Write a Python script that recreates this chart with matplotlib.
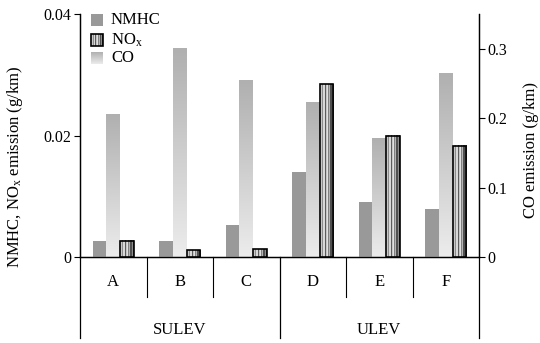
import numpy as np
import matplotlib
matplotlib.use("Agg")
import matplotlib.pyplot as plt
from matplotlib.patches import Rectangle
from matplotlib.colors import LinearSegmentedColormap, ListedColormap

categories = ["A", "B", "C", "D", "E", "F"]
groups = ["SULEV", "ULEV"]
nmhc = [0.0027, 0.0027, 0.0052, 0.0140, 0.0091, 0.0079]
nox = [0.0027, 0.0011, 0.0013, 0.0284, 0.0200, 0.0183]
co = [0.205, 0.300, 0.254, 0.222, 0.170, 0.265]

plt.rcParams['font.family'] = ['Liberation Serif', 'DejaVu Serif']
plt.rcParams['font.size'] = 11.5

fig = plt.figure(figsize=(5.4, 3.43), dpi=100)
ax = fig.add_axes([80/540, (343-257)/343, (479-80)/540, 243/343])
ax2 = ax.twinx()

x = np.arange(len(categories))
w = 0.205

grad_cmap = LinearSegmentedColormap.from_list("g", ["#ececec", "#b0b0b0"])
stripe_cols = ['#e2e2e2', '#c8c8c8', '#8c8c8c', '#d8d8d8', '#5c5c5c', '#c4c4c4',
               '#e0e0e0', '#808080', '#b4b4b4', '#505050', '#8c8c8c', '#3c3c3c']
stripe_cmap = ListedColormap(stripe_cols)
stripe_arr = np.arange(len(stripe_cols)).reshape(1, -1)
grad_arr = np.linspace(0, 1, 100).reshape(-1, 1)

ax.bar(x - w, nmhc, w, color="#999999", zorder=2)
nb = ax.bar(x + w, nox, w, facecolor="none", edgecolor="black", linewidth=1.2, zorder=4)
for b in nb:
    ax.imshow(stripe_arr, cmap=stripe_cmap, aspect='auto', interpolation='nearest',
              extent=[b.get_x(), b.get_x() + b.get_width(), 0, b.get_height()], zorder=3)

cb = ax2.bar(x, co, w, facecolor="none", edgecolor="none", zorder=2)
for b in cb:
    ax2.imshow(grad_arr, cmap=grad_cmap, aspect='auto', origin='lower', vmin=0, vmax=1,
               extent=[b.get_x(), b.get_x() + b.get_width(), 0, b.get_height()], zorder=2)

ax.set_xlim(-0.5, len(categories) - 0.5)
ax.set_ylim(0, 0.04)
ax2.set_ylim(0, 0.35)
ax2.set_xlim(-0.5, len(categories) - 0.5)

ax.set_yticks([0, 0.02, 0.04])
ax.set_yticklabels(["0", "0.02", "0.04"])
ax2.set_yticks([0, 0.1, 0.2, 0.3])
ax2.set_yticklabels(["0", "0.1", "0.2", "0.3"])
ax.set_xticks([])
for a in (ax, ax2):
    a.tick_params(axis='y', direction='out', length=4, width=0.8, pad=2)
    for s in a.spines.values():
        s.set_linewidth(0.9)
    a.spines['top'].set_visible(False)

# category table below the axis
xt = ax.get_xaxis_transform()
for i, c in enumerate(categories):
    ax.text(i, -0.103, c, transform=xt, ha='center', va='center', fontsize=12)
for xb in [0.5, 1.5, 3.5, 4.5]:
    ax.plot([xb, xb], [0, -0.165], transform=xt, color='black', lw=0.8, clip_on=False)
for xb in [-0.5, 2.5, 5.5]:
    ax.plot([xb, xb], [0, -0.333], transform=xt, color='black', lw=0.9, clip_on=False)
ax.text(1, -0.30, groups[0], transform=xt, ha='center', va='center', fontsize=12)
ax.text(4, -0.30, groups[1], transform=xt, ha='center', va='center', fontsize=12)

# axis labels
fig.text(15/540, 1 - 167/343, r"NMHC, NO$\mathregular{_x}$ emission (g/km)",
         rotation=90, ha='center', va='center', fontsize=12)
fig.text(531/540, 1 - 150/343, "CO emission (g/km)",
         rotation=90, ha='center', va='center', fontsize=12)

# legend (manual)
ta = ax.transAxes
hx0 = (91 - 80) / 399
hw = 12 / 399
hh = 12 / 243
rows = [(257 - 20) / 243, (257 - 40) / 243, (257 - 58.5) / 243]
tx = (111 - 80) / 399
ax.add_patch(Rectangle((hx0, rows[0] - hh/2), hw, hh, transform=ta, facecolor="#999999",
                       edgecolor='none', clip_on=False, zorder=5))
ax.text(tx, rows[0], "NMHC", transform=ta, va='center', ha='left', fontsize=12)
im = ax.imshow(stripe_arr, cmap=stripe_cmap, aspect='auto', interpolation='nearest',
               extent=[hx0, hx0 + hw, rows[1] - hh/2, rows[1] + hh/2], zorder=5,
               transform=ta, clip_on=False)
ax.add_patch(Rectangle((hx0, rows[1] - hh/2), hw, hh, transform=ta, facecolor="none",
                       edgecolor='black', lw=1.2, clip_on=False, zorder=6))
ax.text(tx, rows[1], r"NO$\mathregular{_x}$", transform=ta, va='center', ha='left', fontsize=12)
ax.imshow(grad_arr, cmap=grad_cmap, aspect='auto', origin='lower', vmin=0, vmax=1,
          extent=[hx0, hx0 + hw, rows[2] - hh/2, rows[2] + hh/2], zorder=5,
          transform=ta, clip_on=False)
ax.text(tx, rows[2], "CO", transform=ta, va='center', ha='left', fontsize=12)

ax.set_xlim(-0.5, len(categories) - 0.5)
ax.set_ylim(0, 0.04)
ax2.set_ylim(0, 0.35)
ax2.set_xlim(-0.5, len(categories) - 0.5)
ax.set_zorder(ax2.get_zorder() + 1)
ax.patch.set_visible(False)

fig.savefig("out.png", dpi=100)
